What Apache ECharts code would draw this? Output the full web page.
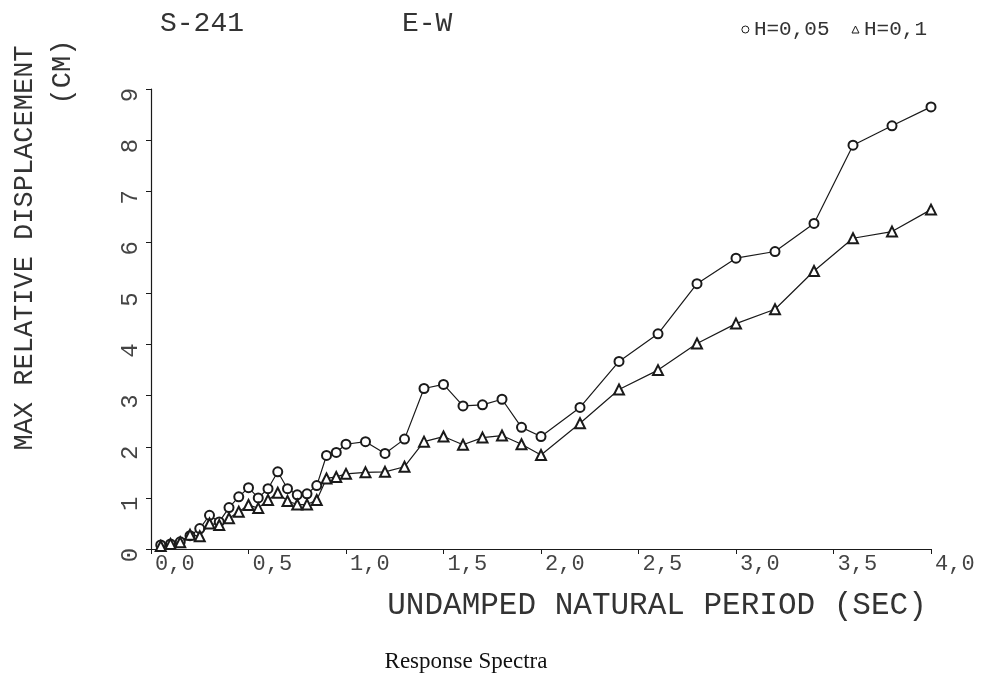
<!DOCTYPE html>
<html>
<head>
<meta charset="utf-8">
<script src="https://cdn.jsdelivr.net/npm/echarts@6/dist/echarts.min.js"></script>
<style>
  html, body { margin: 0; padding: 0; background: #fff; }
  #chart { width: 984px; height: 692px; }
</style>
</head>
<body>
<div id="chart"></div>
<script>
// periods (sec) where the spectra were computed
var periods = [0.05, 0.1, 0.15, 0.2, 0.25, 0.3, 0.35, 0.4, 0.45, 0.5,
  0.55, 0.6, 0.65, 0.7, 0.75, 0.8, 0.85, 0.9, 0.95, 1.0,
  1.1, 1.2, 1.3, 1.4, 1.5, 1.6, 1.7, 1.8, 1.9, 2.0,
  2.2, 2.4, 2.6, 2.8, 3.0, 3.2, 3.4, 3.6, 3.8, 4.0];

// max relative displacement (cm), damping h=0.05 (circles)
var dispH005 = [0.08, 0.1, 0.14, 0.26, 0.4, 0.66, 0.53, 0.81, 1.02, 1.2,
  1.0, 1.18, 1.51, 1.18, 1.06, 1.08, 1.24, 1.83, 1.89, 2.05,
  2.1, 1.87, 2.15, 3.14, 3.22, 2.8, 2.82, 2.93, 2.38, 2.2,
  2.77, 3.67, 4.21, 5.19, 5.69, 5.82, 6.37, 7.9, 8.28, 8.65];

// damping h=0.1 (triangles)
var dispH01 = [0.06, 0.1, 0.13, 0.28, 0.25, 0.5, 0.47, 0.6, 0.73, 0.86,
  0.8, 0.96, 1.1, 0.94, 0.87, 0.87, 0.96, 1.38, 1.41, 1.47,
  1.5, 1.51, 1.61, 2.1, 2.2, 2.04, 2.18, 2.22, 2.05, 1.84,
  2.46, 3.12, 3.5, 4.02, 4.41, 4.69, 5.44, 6.08, 6.21, 6.64];

var seriesNames = ['H=0,05', 'H=0,1'];

function pairs(xs, ys) {
  return xs.map(function (x, i) { return [x, ys[i]]; });
}

var plotFont = 'Liberation Mono';
var ink = '#1a1a1a';

var myChart = echarts.init(document.getElementById('chart'));

var option = {
  backgroundColor: '#fff',
  animation: false,
  grid: { left: 151, right: 53, top: 89, bottom: 143 },
  legend: {
    top: 14,
    right: 52,
    itemGap: 22,
    itemWidth: 7,
    itemHeight: 7,
    textStyle: { fontFamily: plotFont, fontSize: 21, color: '#333' },
    data: [
      { name: seriesNames[0], icon: 'circle',
        itemStyle: { color: '#fff', borderColor: ink, borderWidth: 1 } },
      { name: seriesNames[1], icon: 'triangle',
        itemStyle: { color: '#fff', borderColor: ink, borderWidth: 1 } }
    ]
  },
  xAxis: {
    type: 'value',
    min: 0,
    max: 4,
    interval: 0.5,
    splitLine: { show: false },
    axisLine: { lineStyle: { color: ink, width: 1.2 } },
    axisTick: { length: 5, lineStyle: { color: ink } },
    axisLabel: {
      align: 'left',
      padding: [0, 0, 0, 4],
      margin: 4,
      fontFamily: plotFont,
      fontSize: 22,
      color: '#444',
      formatter: function (v) { return v.toFixed(1).replace('.', ','); }
    }
  },
  yAxis: {
    type: 'value',
    min: 0,
    max: 9,
    interval: 1,
    splitLine: { show: false },
    axisLine: { lineStyle: { color: ink, width: 1.2 } },
    axisTick: { length: 5, lineStyle: { color: ink } },
    axisLabel: {
      rotate: 90,
      margin: 8,
      padding: [0, 12, 0, 0],
      fontFamily: plotFont,
      fontSize: 24,
      color: '#444'
    }
  },
  series: [
    {
      name: seriesNames[0],
      type: 'line',
      data: pairs(periods, dispH005),
      symbol: 'emptyCircle',
      symbolSize: 9,
      lineStyle: { color: ink, width: 1.2 },
      itemStyle: { color: ink, borderWidth: 1 }
    },
    {
      name: seriesNames[1],
      type: 'line',
      data: pairs(periods, dispH01),
      symbol: 'emptyTriangle',
      symbolSize: 10,
      lineStyle: { color: ink, width: 1.2 },
      itemStyle: { color: ink, borderWidth: 1 }
    }
  ],
  graphic: [
    { type: 'text', left: 160, top: 10,
      style: { text: 'S-241', font: '28px "Liberation Mono"', fill: '#333' } },
    { type: 'text', left: 402, top: 10,
      style: { text: 'E-W', font: '28px "Liberation Mono"', fill: '#333' } },
    { type: 'text', x: 25, y: 248, rotation: Math.PI / 2,
      style: { text: 'MAX RELATIVE DISPLACEMENT', font: '27px "Liberation Mono"',
        fill: '#333', align: 'center', verticalAlign: 'middle' } },
    { type: 'text', x: 63, y: 72, rotation: Math.PI / 2,
      style: { text: '(CM)', font: '27px "Liberation Mono"',
        fill: '#333', align: 'center', verticalAlign: 'middle' } },
    { type: 'text', x: 657, y: 606,
      style: { text: 'UNDAMPED NATURAL PERIOD (SEC)', font: '31px "Liberation Mono"',
        fill: '#333', align: 'center', verticalAlign: 'middle' } },
    { type: 'text', x: 466, y: 662,
      style: { text: 'Response Spectra', font: '23px "Liberation Serif"',
        fill: '#111', align: 'center', verticalAlign: 'middle' } }
  ]
};

myChart.setOption(option);
</script>
</body>
</html>
